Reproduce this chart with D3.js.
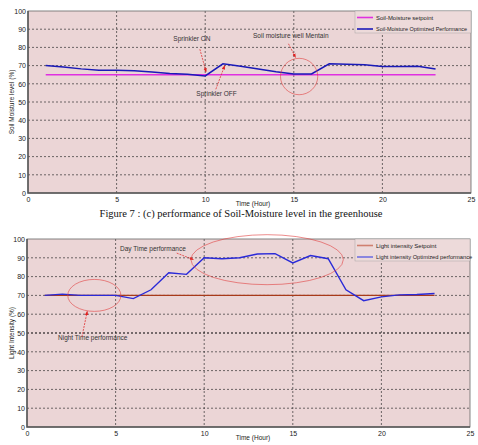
<!DOCTYPE html>
<meta charset="utf-8" />
<style>
  body { margin: 0; background: #fff; }
  text { font-family: "Liberation Sans Narrow", "Arial Narrow", "Liberation Sans", Arial, sans-serif; }
  .tick text { font-size: 7px; fill: #222; }
  .grid line { stroke: #333; stroke-dasharray: 2, 2; stroke-width: 0.7; }
  .caption { font-family: "Liberation Serif", "Times New Roman", serif; font-size: 10.5px; fill: #111; }
  .note { font-size: 6.5px; fill: #333; }
  .leg { font-size: 6px; fill: #222; }
</style>
<svg width="478" height="445"></svg>
<script src="https://d3js.org/d3.v7.min.js"></script>
<script>
  // hours shared by both charts
  var hours = [1, 2, 3, 4, 5, 6, 7, 8, 9, 10, 11, 12, 13, 14, 15, 16, 17, 18, 19, 20, 21, 22, 23];
  var xTicks = [0, 5, 10, 15, 20, 25];
  var yTicks = [0, 10, 20, 30, 40, 50, 60, 70, 80, 90, 100];

  // soil moisture (%)
  var soilSetpoint = [65, 65, 65, 65, 65, 65, 65, 65, 65, 65, 65, 65, 65, 65, 65, 65, 65, 65, 65, 65, 65, 65, 65];
  var soilOptimized = [70, 69.2, 68.2, 67.5, 67.4, 67.2, 66.5, 65.6, 65.2, 64.3, 71, 69.6, 68.1, 66.6, 65.4, 65.4, 71, 70.8, 70.5, 69.5, 69.5, 69.7, 68.1];

  // light intensity (%)
  var lightSetpoint = [70, 70, 70, 70, 70, 70, 70, 70, 70, 70, 70, 70, 70, 70, 70, 70, 70, 70, 70, 70, 70, 70, 70];
  var lightOptimized = [70, 70.7, 70, 70, 70, 68.3, 73, 82, 81.2, 90, 89.5, 90, 92, 92.2, 87.3, 91.2, 89.5, 73, 67.2, 69.2, 70.3, 70.5, 71];

  var svg = d3.select("svg");

  svg.append("defs").append("marker")
    .attr("id", "arr")
    .attr("viewBox", "0 0 10 10")
    .attr("refX", 9).attr("refY", 5)
    .attr("markerWidth", 6).attr("markerHeight", 6)
    .attr("orient", "auto")
    .append("path").attr("d", "M0,1 L10,5 L0,9 z").attr("fill", "#e02020");

  function drawChart(cfg) {
    var x = d3.scaleLinear().domain([0, 25]).range([cfg.left, cfg.right]);
    var y = d3.scaleLinear().domain([0, 100]).range([cfg.bottom, cfg.top]);
    var g = svg.append("g");

    g.append("rect")
      .attr("x", cfg.left).attr("y", cfg.top)
      .attr("width", cfg.right - cfg.left).attr("height", cfg.bottom - cfg.top)
      .attr("fill", "#ebd5d6");

    var grid = g.append("g").attr("class", "grid");
    grid.selectAll(".gx").data(xTicks.slice(1, -1)).enter().append("line")
      .attr("x1", x).attr("x2", x).attr("y1", cfg.top).attr("y2", cfg.bottom);
    grid.selectAll(".gy").data(yTicks.slice(1, -1)).enter().append("line")
      .attr("x1", cfg.left).attr("x2", cfg.right).attr("y1", y).attr("y2", y)
      .style("stroke", function (d) { return d === cfg.darkLine ? "#000" : null; })
      .style("stroke-width", function (d) { return d === cfg.darkLine ? 1.2 : null; });

    g.append("rect")
      .attr("x", cfg.left).attr("y", cfg.top)
      .attr("width", cfg.right - cfg.left).attr("height", cfg.bottom - cfg.top)
      .attr("fill", "none").attr("stroke", "#666").attr("stroke-width", 0.8);
    g.append("path")
      .attr("d", "M" + cfg.left + "," + cfg.top + "V" + cfg.bottom + "H" + cfg.right)
      .attr("fill", "none").attr("stroke", "#555").attr("stroke-width", 1.5);

    var xa = g.append("g")
      .attr("transform", "translate(0," + cfg.bottom + ")")
      .call(d3.axisBottom(x).tickValues(xTicks).tickSize(0).tickPadding(4));
    xa.select(".domain").remove();
    var ya = g.append("g")
      .attr("transform", "translate(" + cfg.left + ",0)")
      .call(d3.axisLeft(y).tickValues(yTicks).tickSize(0).tickPadding(2));
    ya.select(".domain").remove();

    g.append("text")
      .attr("x", 253).attr("y", cfg.bottom + 13)
      .attr("text-anchor", "middle").style("font-size", "6.5px").attr("fill", "#222")
      .text("Time (Hour)");
    g.append("text")
      .attr("transform", "translate(14," + ((cfg.top + cfg.bottom) / 2) + ") rotate(-90)")
      .attr("text-anchor", "middle").style("font-size", "6.5px").attr("fill", "#222")
      .text(cfg.yLabel);

    var line = d3.line().x(function (d) { return x(d[0]); }).y(function (d) { return y(d[1]); });
    cfg.series.forEach(function (s) {
      g.append("path")
        .datum(hours.map(function (h, i) { return [h, s.values[i]]; }))
        .attr("d", line).attr("fill", "none")
        .attr("stroke", s.color).attr("stroke-width", s.width);
    });

    // legend
    var lg = g.append("g");
    lg.append("rect")
      .attr("x", 355).attr("y", cfg.top).attr("width", cfg.right - 355).attr("height", 22)
      .attr("fill", "#eddada").attr("stroke", "#999").attr("stroke-width", 0.4);
    cfg.series.forEach(function (s, i) {
      var yy = cfg.top + 6.5 + i * 11.5;
      lg.append("line").attr("x1", 357).attr("x2", 373).attr("y1", yy).attr("y2", yy)
        .attr("stroke", s.legColor || s.color).attr("stroke-width", 1.6);
      var t = lg.append("text").attr("class", "leg").attr("x", 376).attr("y", yy + 2).text(s.name);
      // squeeze to the narrow width the original uses
      var w = t.node().getComputedTextLength();
      var target = s.name.length * 2.6;
      if (w > target) t.attr("textLength", target).attr("lengthAdjust", "spacingAndGlyphs");
    });

    return { g: g, x: x, y: y };
  }

  var chartA = drawChart({
    left: 28, right: 471, top: 11, bottom: 193,
    yLabel: "Soil Moisture level (%)",
    series: [
      { name: "Soil-Moisture setpoint", values: soilSetpoint, color: "#e030e0", width: 1.5 },
      { name: "Soil-Moisture Optimized Performance", values: soilOptimized, color: "#1a1ab8", width: 1.5 }
    ]
  });

  var chartB = drawChart({
    left: 27, right: 470, top: 239, bottom: 427, darkLine: 50,
    yLabel: "Light Intensity (%)",
    series: [
      { name: "Light intensity Setpoint", values: lightSetpoint, color: "#a83a1a", legColor: "#d08070", width: 1.2 },
      { name: "Light intensity Optimized performance", values: lightOptimized, color: "#2a2ad8", legColor: "#7070e0", width: 1.4 }
    ]
  });

  function note(c, tx, ty, label, ax1, ay1, ax2, ay2) {
    c.g.append("text").attr("class", "note")
      .attr("x", c.x(tx)).attr("y", c.y(ty)).text(label);
    c.g.append("line")
      .attr("x1", c.x(ax1)).attr("y1", c.y(ay1)).attr("x2", c.x(ax2)).attr("y2", c.y(ay2))
      .attr("stroke", "#e02020").attr("stroke-width", 0.7).attr("stroke-dasharray", "2,1")
      .attr("marker-end", "url(#arr)");
  }
  function ring(c, cx, cy, rx, ry) {
    c.g.append("ellipse")
      .attr("cx", c.x(cx)).attr("cy", c.y(cy))
      .attr("rx", c.x(cx + rx) - c.x(cx)).attr("ry", c.y(cy - ry) - c.y(cy))
      .attr("fill", "none").attr("stroke", "#e04040").attr("stroke-width", 0.6);
  }

  // top chart notes
  note(chartA, 8.2, 83.5, "Sprinkler ON", 9.7, 79, 10.05, 66.5);
  note(chartA, 9.5, 53.5, "Sprinkler OFF", 10.6, 57, 11.1, 70);
  note(chartA, 12.7, 85, "Soil moisture well Mentain", 14.7, 82, 15.1, 74.5);
  ring(chartA, 15.3, 64, 1.05, 10);

  // bottom chart notes
  note(chartB, 5.25, 93.5, "Day Time performance", 8.45, 92.5, 9.4, 89);
  note(chartB, 1.75, 46.5, "Night Time performance", 3.1, 48, 3.4, 61.5);
  ring(chartB, 3.8, 70, 1.5, 8.5);
  ring(chartB, 13.55, 89, 4.3, 13.3);

  svg.append("text").attr("class", "caption")
    .attr("x", 241).attr("y", 217).attr("text-anchor", "middle")
    .text("Figure 7 : (c) performance of Soil-Moisture level in the greenhouse");
</script>
